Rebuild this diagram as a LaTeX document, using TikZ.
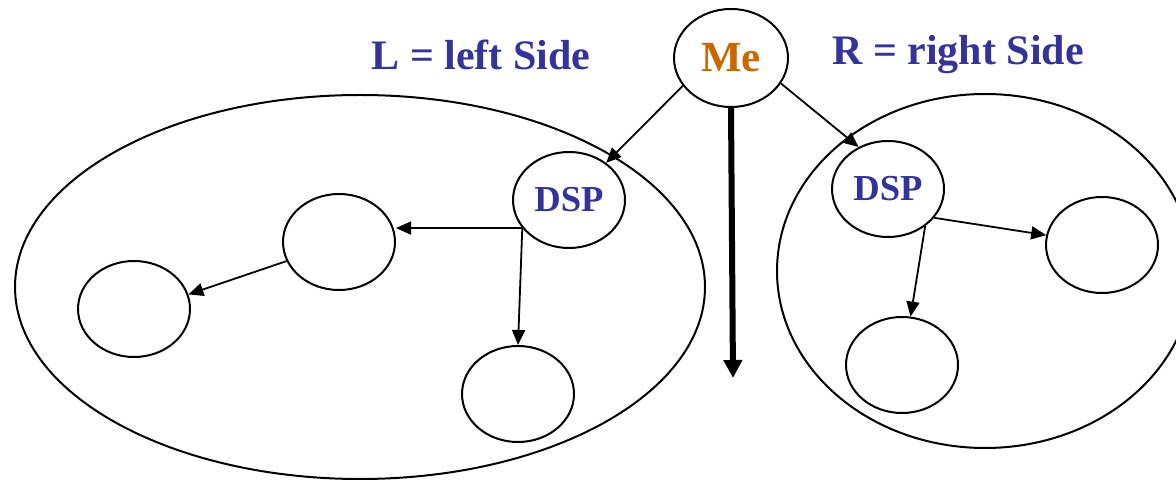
\documentclass[tikz,border=0pt]{standalone}
\usepackage{fontspec}
\setmainfont{Liberation Serif}
\usepackage{tikz}
\usetikzlibrary{positioning, shapes.geometric, arrows.meta}

\definecolor{meorange}{RGB}{204,102,0}
\definecolor{sideblue}{RGB}{51,51,153}

\begin{document}
\begin{tikzpicture}[
  x=0.5pt, y=-0.5pt,
  region/.style={ellipse, draw=black, line width=1pt, inner sep=0pt},
  vertex/.style={ellipse, draw=black, line width=1pt, inner sep=0pt, minimum width=56pt, minimum height=48pt},
  lbl/.style={font=\bfseries\fontsize{21}{25}\selectfont, text=sideblue},
  arrow/.style={-{Triangle[length=7.5pt,width=6.5pt]}, line width=0.9pt},
  bigarrow/.style={-{Triangle[length=9pt,width=9pt]}, line width=3pt}
]
\useasboundingbox (0,0) rectangle (1176,480);

% the two sides
\node[region, minimum width=345pt, minimum height=192pt] (leftside) at (360,287) {};
\node[region, minimum width=208pt, minimum height=177pt] (rightside) at (985,271) {};

% top
\node[vertex, minimum width=57pt, minimum height=49pt, font=\bfseries\fontsize{21.5}{25}\selectfont, text=meorange] (me) at (731,58) {Me};
\node[lbl] (ltitle) at (481,55) {L = left Side};
\node[lbl] (rtitle) at (958,55) {R = right Side};

% left side
\node[vertex, font=\bfseries\fontsize{18.3}{22}\selectfont, text=sideblue] (dspl) at (569,200) {DSP};
\node[vertex] (la) at (339,242) {};
\node[vertex] (lb) at (134,309) {};
\node[vertex] (lc) at (518,394) {};

% right side
\node[vertex, font=\bfseries\fontsize{18.3}{22}\selectfont, text=sideblue] (dspr) at (888,189) {DSP};
\node[vertex] (rd) at (1102,245) {};
\node[vertex] (re) at (902,365) {};

\coordinate (down) at (733,378);

\draw[arrow] (me.210) -- (dspl.45);
\draw[arrow] (me.333) -- (dspr.125);
\draw[bigarrow] (me.south) -- (down);

\draw[arrow] (dspl.211) -- (dspl.211 -| la.east);
\draw[arrow] (dspl.211) -- (lc.north);
\draw[arrow] (la.200) -- (lb.15);

\draw[arrow] (dspr.328) -- (rd.170);
\draw[arrow] (dspr.315) -- (re.80);

\end{tikzpicture}
\end{document}
